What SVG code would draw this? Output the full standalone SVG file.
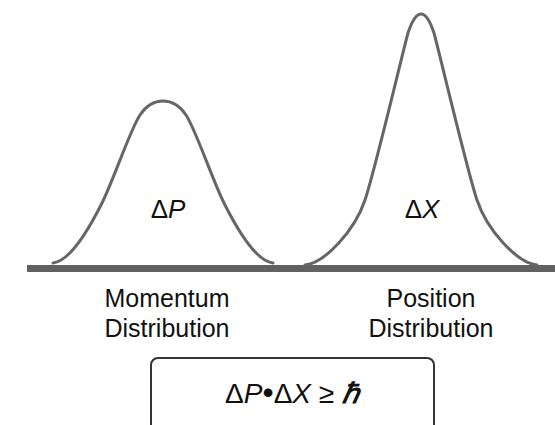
<svg xmlns="http://www.w3.org/2000/svg" width="555" height="425" viewBox="0 0 555 425">
<style>
.curve{fill:none;stroke:#666;stroke-width:3;stroke-linejoin:round;stroke-linecap:round}
.lbl{font-family:"Liberation Sans",Arial,sans-serif;font-size:25px;fill:#111;text-anchor:middle}
.sym{font-family:"Liberation Sans",Arial,sans-serif;font-size:26px;fill:#111;text-anchor:middle}
.it{font-style:italic}
</style>
<rect width="555" height="425" fill="#fff"/>
<g id="connectors">
<rect id="baseline" x="27" y="265" width="528" height="7" fill="#616161"/>
</g>
<g id="momentum">
<path class="curve" d="M53,263 C71,261 90,227 102,203 C114,179 130,130 140,115 C148,103 156,101 163,101 C170,101 178,103 186,115 C196,130 212,179 224,203 C236,227 255,261 273,263"/>
<text class="sym" x="168" y="218">Δ<tspan class="it">P</tspan></text>
<text class="lbl" x="167" y="307">Momentum</text>
<text class="lbl" x="167" y="337">Distribution</text>
</g>
<g id="position">
<path class="curve" d="M305,265 C325,263 355,230 365,200 C375,170 402,55 408,33 C413,18 417,14 421,14 C425,14 429,18 434,33 C440,55 467,170 477,200 C487,230 517,263 537,265"/>
<text class="sym" x="422" y="218">Δ<tspan class="it">X</tspan></text>
<text class="lbl" x="431" y="307">Position</text>
<text class="lbl" x="431" y="337">Distribution</text>
</g>
<g id="formula">
<rect x="151" y="358" width="283" height="90" rx="7" fill="#fff" stroke="#333" stroke-width="2"/>
<text class="sym" x="292" y="403" style="font-size:28px">Δ<tspan class="it">P</tspan><tspan font-size="32">•</tspan>Δ<tspan class="it">X</tspan> ≥ <tspan class="it" font-weight="bold">ℏ</tspan></text>
</g>
</svg>
